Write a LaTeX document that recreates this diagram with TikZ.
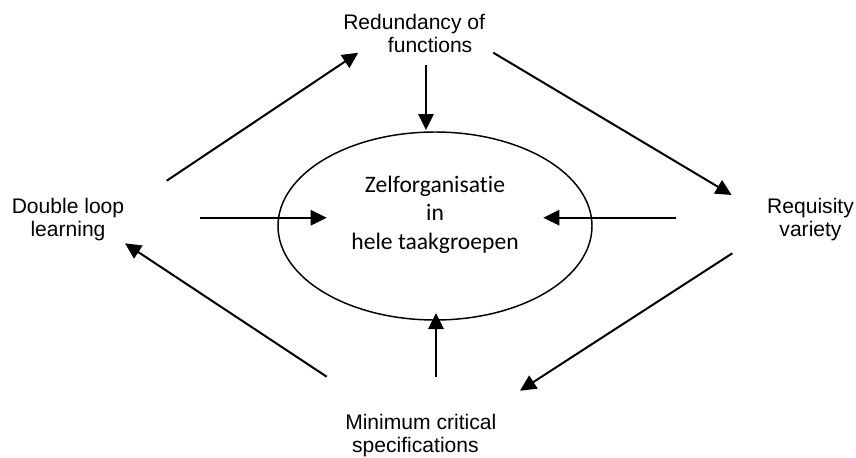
\documentclass[tikz,border=0pt]{standalone}
\usepackage{fontspec}
\setmainfont{Liberation Sans}
\newfontfamily\calfont[Ligatures={NoCommon}]{Carlito}
\usetikzlibrary{arrows.meta,shapes.geometric}
\tikzset{
  lbl/.style={inner sep=0pt, font=\fontsize{15.8}{17.6}\selectfont},
  ctr/.style={inner sep=0pt, font=\calfont\fontsize{17.7}{21.4}\selectfont},
  arr/.style={line width=1.5pt, -{Triangle[length=12pt,width=11.5pt]}},
  ellbox/.style={ellipse, draw, line width=1.1pt, inner sep=0pt, minimum width=235.5pt, minimum height=141pt}
}
\begin{document}
\begin{tikzpicture}[x=0.75pt,y=-0.75pt]
\useasboundingbox (0,0) rectangle (856,457);
% nodes
\node[ellbox] (ell) at (435,226) {};
\node[ctr, anchor=base] (zelf) at (435,192) {\begin{tabular}[t]{@{}c@{}}Zelforganisatie\\in\\hele taakgroepen\end{tabular}};
\node[lbl, anchor=base west] (red) at (343,29) {\begin{tabular}[t]{@{}l@{}}Redundancy of\\\hspace*{33.5pt}functions\end{tabular}};
\node[lbl, anchor=base] (dbl) at (68,213) {\begin{tabular}[t]{@{}c@{}}Double loop\\learning\end{tabular}};
\node[lbl, anchor=base] (req) at (810.5,213) {\begin{tabular}[t]{@{}c@{}}Requisity\\variety\end{tabular}};
\node[lbl, anchor=base west] (min) at (345,429) {\begin{tabular}[t]{@{}l@{}}Minimum critical\\\hspace*{5.2pt}specifications\end{tabular}};
% connector end points
\coordinate (a1s) at (166.7,180.7); \coordinate (a1e) at (358.3,52.7);
\coordinate (a2s) at (426,65);      \coordinate (a2e) at (426,130);
\coordinate (a3s) at (493.3,52.7);  \coordinate (a3e) at (731.7,195);
\coordinate (a4s) at (676,217.7);   \coordinate (a4e) at (543.3,217.7);
\coordinate (a5s) at (200,217.7);   \coordinate (a5e) at (326.7,217.7);
\coordinate (a6s) at (732.3,253.3); \coordinate (a6e) at (520,390.7);
\coordinate (a7s) at (436,377);     \coordinate (a7e) at (436,313);
\coordinate (a8s) at (326.7,376.7); \coordinate (a8e) at (125,243.3);
% connectors
\draw[arr] (a1s) -- (a1e);
\draw[arr] (a2s) -- (a2e);
\draw[arr] (a3s) -- (a3e);
\draw[arr] (a4s) -- (a4e);
\draw[arr] (a5s) -- (a5e);
\draw[arr] (a6s) -- (a6e);
\draw[arr] (a7s) -- (a7e);
\draw[arr] (a8s) -- (a8e);
\end{tikzpicture}
\end{document}
